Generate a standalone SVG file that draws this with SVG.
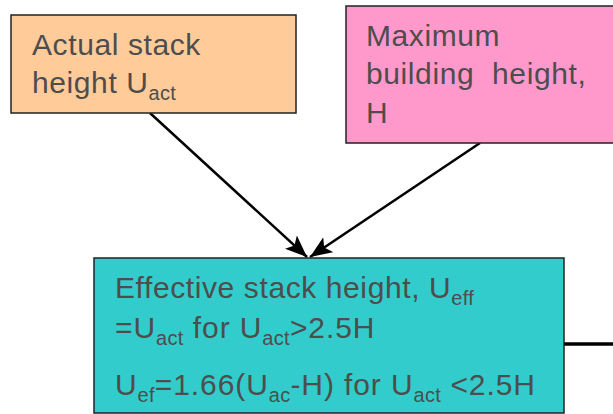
<svg xmlns="http://www.w3.org/2000/svg" width="613" height="414" viewBox="0 0 613 414">
<defs>
<style>
.box{stroke:#222;stroke-width:1.5}
.t{font-family:"Liberation Sans",Arial,sans-serif;font-size:30px;letter-spacing:0.6px;fill:#4d4d4d}
.w{letter-spacing:0.9px}
.s{font-size:20px;letter-spacing:0.3px}
.c{stroke:#000;stroke-width:2.5;fill:none}
</style>
<marker id="ah2" viewBox="0 0 22 18" refX="22" refY="9" markerWidth="22" markerHeight="18" orient="auto" markerUnits="userSpaceOnUse">
<path d="M0,0 L22,9 L0,18 L5,9 z" fill="#000"/>
</marker>
</defs>
<rect width="613" height="414" fill="#fff"/>
<g id="connectors">
<line class="c" x1="150" y1="113" x2="307" y2="257" marker-end="url(#ah2)"/>
<line class="c" x1="480" y1="143" x2="310" y2="257" marker-end="url(#ah2)"/>
<line x1="564" y1="344" x2="613" y2="344" stroke="#000" stroke-width="3.5"/>
</g>
<g id="actual">
<rect class="box" x="11" y="15" width="285" height="98" fill="#FFCC99"/>
<text class="t" x="32" y="55">Actual stack</text>
<text class="t" x="32" y="93">height U<tspan class="s" dy="7">act</tspan></text>
</g>
<g id="building">
<rect class="box" x="346" y="6" width="280" height="137" fill="#FF99CC"/>
<text class="t" x="366" y="46">Maximum</text>
<text class="t" x="366" y="84" xml:space="preserve">building  height,</text>
<text class="t" x="366" y="123">H</text>
</g>
<g id="effective">
<rect class="box" x="94" y="258" width="470" height="155" fill="#33CCCC"/>
<text class="t" x="115" y="298">Effective stack height, U<tspan class="s" dy="7">eff</tspan></text>
<text class="t w" x="115" y="338">=U<tspan class="s" dy="7">act</tspan><tspan dy="-7"> for U</tspan><tspan class="s" dy="7">act</tspan><tspan dy="-7">&gt;2.5H</tspan></text>
<text class="t w" x="115" y="395">U<tspan class="s" dy="7">ef</tspan><tspan dy="-7">=1.66(U</tspan><tspan class="s" dy="7">ac</tspan><tspan dy="-7">-H) for U</tspan><tspan class="s" dy="7">act</tspan><tspan dy="-7"> &lt;2.5H</tspan></text>
</g>
</svg>
